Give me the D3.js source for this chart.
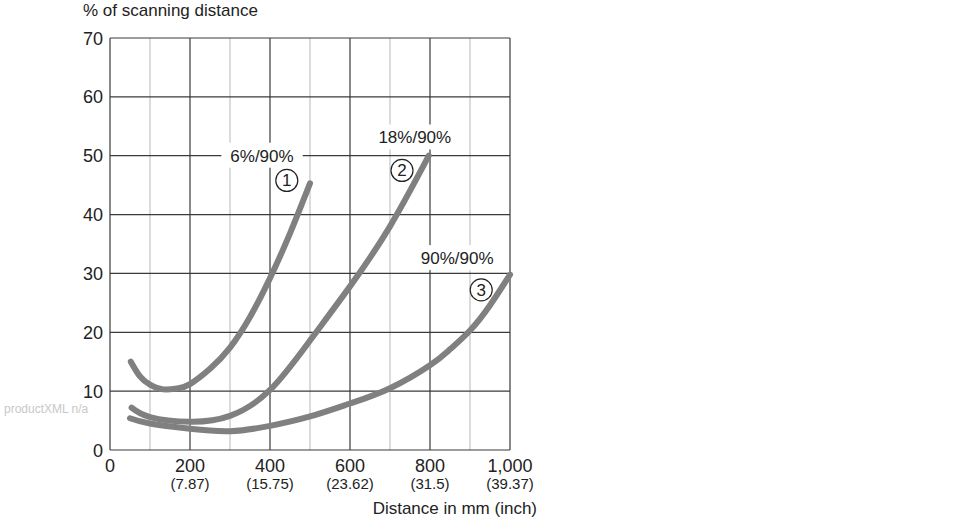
<!DOCTYPE html>
<html>
<head>
<meta charset="utf-8">
<style>
body { margin: 0; background: #fff; }
svg text { font-family: "Liberation Sans", Arial, sans-serif; fill: #222; }
.curve { fill: none; stroke: #808080; stroke-width: 6; stroke-linecap: round; stroke-linejoin: round; }
</style>
</head>
<body>
<svg id="chart" width="970" height="520"></svg>
<script src="https://d3js.org/d3.v7.min.js"></script>
<script>
// tick values
let xTicks = [0, 200, 400, 600, 800, 1000];
let xInch = ["", "(7.87)", "(15.75)", "(23.62)", "(31.5)", "(39.37)"];
let xMinor = [100, 300, 500, 700, 900];
let yTicks = [0, 10, 20, 30, 40, 50, 60, 70];

// curves: [distance mm, % of scanning distance]
let curve1 = [[52, 15], [75, 12.5], [100, 11.1], [133, 10.3], [170, 10.5], [200, 11.2], [250, 13.8], [300, 17.4], [350, 22.6], [400, 29.2], [450, 36.8], [500, 45.3]];
let curve2 = [[54, 7.2], [100, 5.6], [200, 4.8], [300, 5.8], [400, 10.2], [500, 18.6], [600, 27.8], [700, 38], [797, 50]];
let curve3 = [[50, 5.4], [100, 4.5], [200, 3.6], [300, 3.2], [400, 4.1], [500, 5.7], [600, 7.9], [700, 10.5], [800, 14.4], [850, 17.1], [900, 20.3], [950, 24.6], [1000, 29.8]];

// annotation labels: text, x, y (data units)
let labels = [
    {text: "6%/90%", x: 380, y: 50},
    {text: "18%/90%", x: 762, y: 53.1},
    {text: "90%/90%", x: 868, y: 32.6}
];
let markers = [
    {num: "1", x: 442, y: 45.8},
    {num: "2", x: 730, y: 47.5},
    {num: "3", x: 928, y: 27.2}
];

let svg = d3.select("#chart");

let xScale = d3.scaleLinear().domain([0, 1000]).range([110, 510]);
let yScale = d3.scaleLinear().domain([0, 70]).range([450, 38]);

// minor verticals
svg.append("g").selectAll("line")
    .data(xMinor)
    .join("line")
    .attr("x1", d => xScale(d)).attr("x2", d => xScale(d))
    .attr("y1", yScale(0)).attr("y2", yScale(70))
    .attr("stroke", "#c4c4c4").attr("stroke-width", 1.2);

// major verticals
svg.append("g").selectAll("line")
    .data(xTicks)
    .join("line")
    .attr("x1", d => xScale(d)).attr("x2", d => xScale(d))
    .attr("y1", yScale(0)).attr("y2", yScale(70))
    .attr("stroke", "#3a3a3a").attr("stroke-width", 1.2);

// horizontals
svg.append("g").selectAll("line")
    .data(yTicks)
    .join("line")
    .attr("x1", xScale(0)).attr("x2", xScale(1000))
    .attr("y1", d => yScale(d)).attr("y2", d => yScale(d))
    .attr("stroke", "#3a3a3a").attr("stroke-width", 1.2);

// y tick labels
svg.append("g").selectAll("text")
    .data(yTicks)
    .join("text")
    .attr("x", 103)
    .attr("y", d => yScale(d) + 6.5)
    .attr("text-anchor", "end")
    .attr("font-size", 18)
    .text(d => d);

// x tick labels
let fmt = d3.format(",");
svg.append("g").selectAll("text")
    .data(xTicks)
    .join("text")
    .attr("x", d => xScale(d))
    .attr("y", 472)
    .attr("text-anchor", "middle")
    .attr("font-size", 18)
    .text(d => fmt(d));
svg.append("g").selectAll("text")
    .data(xTicks)
    .join("text")
    .attr("x", d => xScale(d))
    .attr("y", 489)
    .attr("text-anchor", "middle")
    .attr("font-size", 15)
    .text((d, i) => xInch[i]);

// axis titles
svg.append("text")
    .attr("x", 83).attr("y", 16)
    .attr("font-size", 17)
    .text("% of scanning distance");
svg.append("text")
    .attr("x", 537).attr("y", 514)
    .attr("text-anchor", "end")
    .attr("font-size", 17)
    .text("Distance in mm (inch)");

svg.append("text")
    .attr("x", 4).attr("y", 413)
    .attr("font-size", 12)
    .style("fill", "#c8c8c8")
    .text("productXML n/a");

// labels with white boxes
let lab = svg.append("g").selectAll("g")
    .data(labels)
    .join("g");
lab.append("rect")
    .attr("fill", "#fff");
lab.append("text")
    .attr("x", d => xScale(d.x))
    .attr("y", d => yScale(d.y) + 6)
    .attr("text-anchor", "middle")
    .attr("font-size", 17)
    .text(d => d.text);
lab.each(function() {
    let g = d3.select(this);
    let b = g.select("text").node().getBBox();
    g.select("rect")
        .attr("x", b.x - 9).attr("y", b.y - 4)
        .attr("width", b.width + 18).attr("height", b.height + 6);
});

// curves
let line = d3.line()
    .x(d => xScale(d[0]))
    .y(d => yScale(d[1]))
    .curve(d3.curveNatural);
svg.append("g").selectAll("path")
    .data([curve3, curve2, curve1])
    .join("path")
    .attr("class", "curve")
    .attr("d", line);

// circled numbers
let mk = svg.append("g").selectAll("g")
    .data(markers)
    .join("g")
    .attr("transform", d => "translate(" + xScale(d.x) + "," + yScale(d.y) + ")");
mk.append("circle")
    .attr("r", 11)
    .attr("fill", "#fff")
    .attr("stroke", "#222")
    .attr("stroke-width", 1.2);
mk.append("text")
    .attr("y", 6)
    .attr("text-anchor", "middle")
    .attr("font-size", 17)
    .text(d => d.num);
</script>
</body>
</html>
